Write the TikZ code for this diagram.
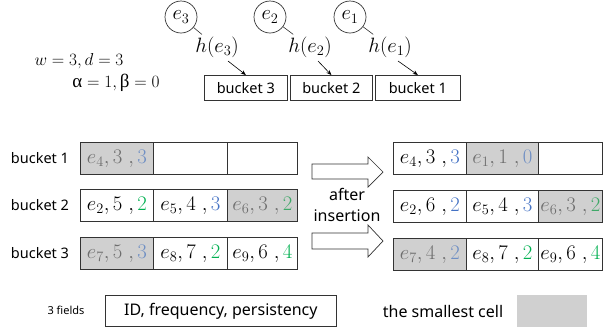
\documentclass[tikz,border=0pt]{standalone}
\usepackage[no-math]{fontspec}
\setmainfont{Noto Sans}
\newfontfamily\grk{Liberation Serif}
\usetikzlibrary{arrows.meta,calc}
\definecolor{pblue}{HTML}{4472C4}
\definecolor{pgreen}{HTML}{00B050}
\definecolor{cellgray}{HTML}{D0D0D0}
\definecolor{fadetext}{HTML}{6E6E6E}
\definecolor{fblue}{HTML}{6F8FC4}
\definecolor{fgreen}{HTML}{3FA868}
\definecolor{linec}{HTML}{333333}
\newcommand{\pb}[1]{{\color{pblue}#1}}
\newcommand{\pg}[1]{{\color{pgreen}#1}}
\newcommand{\fb}[1]{{\color{fblue}#1}}
\newcommand{\fg}[1]{{\color{fgreen}#1}}
\begin{document}
\begin{tikzpicture}[x=1pt,y=-1pt,
  cell/.style={draw=linec, line width=0.8pt, minimum width=73pt, minimum height=32pt, inner sep=0pt, anchor=north west, font=\fontsize{19.5}{19.5}\selectfont},
  smallcell/.style={cell, fill=cellgray, text=fadetext},
  elem/.style={draw=linec, circle, line width=0.7pt, minimum size=32pt, inner sep=0pt, font=\fontsize{20}{20}\selectfont},
  hlab/.style={inner sep=2pt, font=\fontsize{20}{20}\selectfont},
  bbox/.style={draw=linec, line width=0.7pt, minimum height=25pt, inner sep=0pt, anchor=north west, font=\fontsize{14.5}{15}\selectfont},
  rowlab/.style={font=\fontsize{14.5}{15}\selectfont, inner sep=0pt},
  arr/.style={draw=black, line width=0.6pt, -{Stealth[length=5pt,width=4pt]}},
  blockarrow/.style={draw=linec, line width=0.7pt, fill=white, line join=miter}
]
\useasboundingbox (0,0) rectangle (605,330);

% elements and hashes
\node[elem] (c3) at (181,17) {$e_3$};
\node[elem] (c2) at (270,17) {$e_2$};
\node[elem] (c1) at (350,17) {$e_1$};
\node[hlab] (h3) at (217,47) {$h(e_3)$};
\node[hlab] (h2) at (310,47) {$h(e_2)$};
\node[hlab] (h1) at (390,47) {$h(e_1)$};
\draw[linec, line width=0.6pt] (c3) -- (h3);
\draw[linec, line width=0.6pt] (c2) -- (h2);
\draw[linec, line width=0.6pt] (c1) -- (h1);

\node[bbox, minimum width=83pt] (b3) at (204,75) {bucket 3};
\node[bbox, minimum width=82pt] (b2) at (290,75) {bucket 2};
\node[bbox, minimum width=85pt] (b1) at (375,75) {bucket 1};
\draw[arr] ($(h3.center)+(11,14)$) -- (b3.north);
\draw[arr] ($(h2.center)+(8,14)$) -- (b2.north);
\draw[arr] ($(h1.center)+(8,14)$) -- (b1.north);

% parameters
\node[font=\fontsize{19}{19}\selectfont, inner sep=0pt] (p1) at (79,61) {$w=3,d=3$};
\node[font=\fontsize{19}{19}\selectfont, inner sep=0pt] (p2) at (116,83) {$\mbox{\grk α}=1,\mbox{\grk β}=0$};

% row labels
\node[rowlab] (r1) at (40,158) {bucket 1};
\node[rowlab] (r2) at (40,205) {bucket 2};
\node[rowlab] (r3) at (40,253) {bucket 3};

% left table
\node[smallcell, minimum width=73pt] (l11) at (80,142) {$e_4,3\;,\fb{3}$};
\node[cell, minimum width=74pt] (l12) at (153,142) {};
\node[cell, minimum width=70pt] (l13) at (227,142) {};
\node[cell, minimum width=73pt] (l21) at (80,189) {$e_2,5\;,\pg{2}$};
\node[cell, minimum width=74pt] (l22) at (153,189) {$e_5,4\;,\pb{3}$};
\node[smallcell, minimum width=70pt] (l23) at (227,189) {$e_6,3\;,\fg{2}$};
\node[smallcell, minimum width=73pt] (l31) at (80,237) {$e_7,5\;,\fb{3}$};
\node[cell, minimum width=74pt] (l32) at (153,237) {$e_8,7\;,\pg{2}$};
\node[cell, minimum width=70pt] (l33) at (227,237) {$e_9,6\;,\pg{4}$};

% right table
\node[cell, minimum width=73pt] (q11) at (393,142) {$e_4,3\;,\pb{3}$};
\node[smallcell, minimum width=72pt] (q12) at (466,142) {$e_1,1\;,\fb{0}$};
\node[cell, minimum width=64pt] (q13) at (538,142) {};
\node[cell, minimum width=73pt] (q21) at (393,190) {$e_2,6\;,\pb{2}$};
\node[cell, minimum width=72pt] (q22) at (466,190) {$e_5,4\;,\pb{3}$};
\node[smallcell, minimum width=64pt] (q23) at (538,190) {$e_6,3\;,\fg{2}$};
\node[smallcell, minimum width=73pt] (q31) at (393,238) {$e_7,4\;,\fb{2}$};
\node[cell, minimum width=72pt] (q32) at (466,238) {$e_8,7\;,\pg{2}$};
\node[cell, minimum width=64pt] (q33) at (538,238) {$e_9,6\;,\pg{4}$};

% block arrows
\draw[blockarrow] (312,164) -- (368,164) -- (368,157) -- (383,172) -- (368,187) -- (368,179) -- (312,179) -- cycle;
\draw[blockarrow] (312,233) -- (368,233) -- (368,225) -- (383,241) -- (368,257) -- (368,249) -- (312,249) -- cycle;
\node[rowlab, font=\fontsize{16}{16}\selectfont] (t1) at (347,194) {after};
\node[rowlab, font=\fontsize{16}{16}\selectfont] (t2) at (347,216) {insertion};

% legend
\node[inner sep=0pt, font=\fontsize{11}{11}\selectfont] (f3) at (66,310) {3 fields};
\node[draw=linec, line width=0.7pt, minimum width=231pt, minimum height=31pt, inner sep=0pt, anchor=north west, font=\fontsize{16}{16}\selectfont] (fb) at (105,295) {ID, frequency, persistency};
\node[inner sep=0pt, font=\fontsize{16}{16}\selectfont] (sc) at (443,311) {the smallest cell};
\node[fill=cellgray, minimum width=70pt, minimum height=32pt, inner sep=0pt, anchor=north west] (gr) at (517,295) {};
\end{tikzpicture}
\end{document}
